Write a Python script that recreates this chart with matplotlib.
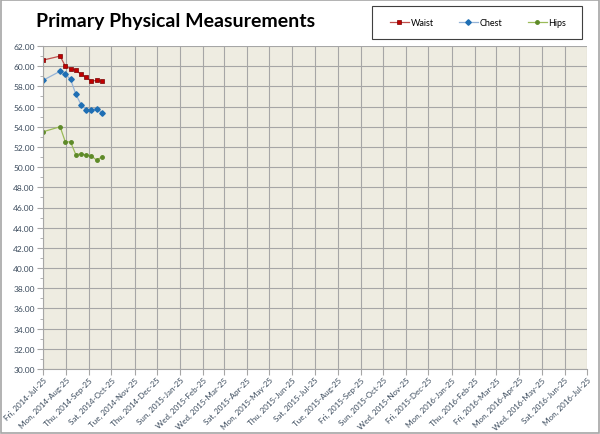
import numpy as np
import matplotlib
matplotlib.use("Agg")
import matplotlib.pyplot as plt
import matplotlib.dates as mdates
from datetime import date

dates = [date(2014, 7, 25), date(2014, 8, 17), date(2014, 8, 24), date(2014, 8, 31),
         date(2014, 9, 7), date(2014, 9, 14), date(2014, 9, 21), date(2014, 9, 28),
         date(2014, 10, 5), date(2014, 10, 12)]
waist = [60.6, 61.0, 60.0, 59.75, 59.6, 59.2, 58.9, 58.5, 58.6, 58.5]
chest = [58.6, 59.5, 59.2, 58.7, 57.25, 56.2, 55.7, 55.7, 55.8, 55.4]
hips = [53.5, 54.0, 52.5, 52.5, 51.25, 51.3, 51.2, 51.1, 50.7, 51.0]

x_start = date(2014, 7, 25)
x_end = date(2016, 7, 25)
y_min, y_max = 30, 62

plt.rcParams['font.family'] = ['Lato', 'DejaVu Sans']

fig = plt.figure(figsize=(6, 4.35), dpi=100)
ax = fig.add_axes([43 / 600, 1 - 370 / 435, (587 - 43) / 600, (370 - 47) / 435])
ax.set_facecolor("#EEECE1")

ax.plot(dates, waist, color="#C0504D", lw=0.9, marker="s", ms=3.3,
        mfc="#C00000", mec="#7A0000", mew=0.5, label="Waist")
ax.plot(dates, chest, color="#95B3D7", lw=0.9, marker="D", ms=2.8,
        mfc="#1F6FB4", mec="#1F6FB4", label="Chest")
ax.plot(dates, hips, color="#9BBB59", lw=0.9, marker="o", ms=2.5,
        mfc="#5E8A28", mec="#5E8A28", label="Hips")

ax.set_xlim(x_start, x_end)
ax.set_ylim(y_min, y_max)
ax.xaxis.set_major_locator(mdates.MonthLocator(bymonthday=25))
ax.xaxis.set_major_formatter(mdates.DateFormatter("%a, %Y-%b-%d"))
ax.set_yticks(np.arange(y_min, y_max + 1, 2))
ax.set_yticks(np.arange(y_min + 1, y_max, 2), minor=True)
ax.yaxis.set_major_formatter(matplotlib.ticker.FormatStrFormatter("%.2f"))

ax.grid(True, which="major", color="#A6A6A6", lw=0.8)
ax.set_axisbelow(True)
for side in ["top", "right"]:
    ax.spines[side].set_visible(False)
for side in ["left", "bottom"]:
    ax.spines[side].set_color("#A6A6A6")

ax.tick_params(axis="y", labelsize=6, labelcolor="#3A4A5C", color="#A6A6A6", length=4, pad=2)
ax.tick_params(axis="y", which="minor", color="#A6A6A6", length=2)
ax.tick_params(axis="x", labelsize=5.8, labelcolor="#3A4A5C", color="#A6A6A6", length=4, pad=1)
plt.setp(ax.get_xticklabels(), rotation=45, ha="right", rotation_mode="anchor")

fig.text(36 / 600, 1 - 22 / 435, "Primary Physical Measurements", fontsize=14,
         fontweight="bold", va="center", ha="left")

# legend box drawn separately so the padding matches the original
fig.patches.append(plt.Rectangle((372 / 600, 1 - 40 / 435), 210 / 600, 33 / 435,
                                 transform=fig.transFigure, fill=False,
                                 edgecolor="#404040", lw=0.8))
fig.legend(loc="center", bbox_to_anchor=(478 / 600, 1 - 23.5 / 435), ncol=3,
           fontsize=6.5, frameon=False, handlelength=2.1, columnspacing=2.8,
           handletextpad=0.2, borderaxespad=0, borderpad=0)

# outer border of the chart area
fig.patches.append(plt.Rectangle((0.002, 0.002), 0.996, 0.996, transform=fig.transFigure,
                                 fill=False, edgecolor="#A6A6A6", lw=1.2))

fig.savefig("out.png", dpi=100)
